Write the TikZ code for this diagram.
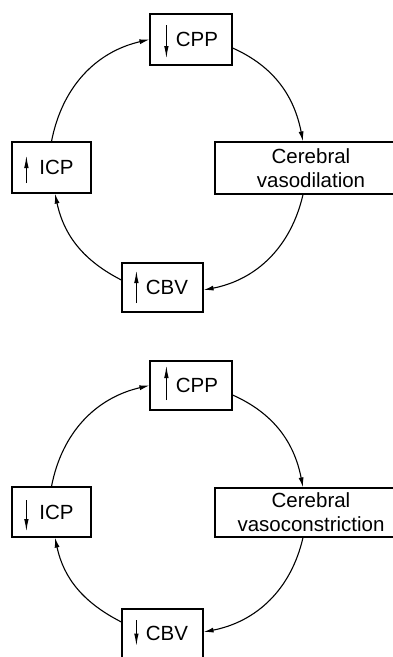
\documentclass[tikz,border=0pt]{standalone}
\usepackage{fontspec}
\setmainfont{Liberation Sans}
\usetikzlibrary{arrows.meta}
\begin{document}
\begin{tikzpicture}[x=1pt,y=1pt,
  box/.style={draw, line width=1.2pt, inner sep=0pt, align=center,
    font=\fontsize{20.5}{24}\selectfont},
  conn/.style={-{Latex[length=10pt,width=5pt]}, line width=1.1pt},
  updown/.style={-{Latex[length=13pt,width=4.5pt]}, line width=1.3pt}]
\useasboundingbox (0,0) rectangle (393,-657);
\clip (0,0) rectangle (393,-657);
% ---- upper cycle ----
\node[box, minimum width=82pt, minimum height=51pt] (cpp1) at (191,-39.5) {\hspace*{12pt}CPP};
\node[box, minimum width=79pt, minimum height=51pt] (icp1) at (51.5,-167.5) {\hspace*{10pt}ICP};
\node[box, minimum width=192pt, minimum height=52pt] (cer1) at (311,-168) {Cerebral\\vasodilation};
\node[box, minimum width=81pt, minimum height=49pt] (cbv1) at (162.5,-287.5) {\hspace*{9pt}CBV};
\draw[updown] ([xshift=17pt,yshift=14.5pt]cpp1.west) -- ([xshift=17pt,yshift=-19.5pt]cpp1.west);
\draw[updown] ([xshift=15pt,yshift=-15.5pt]icp1.west) -- ([xshift=15pt,yshift=12.5pt]icp1.west);
\draw[updown] ([xshift=15pt,yshift=-15.5pt]cbv1.west) -- ([xshift=15pt,yshift=17.5pt]cbv1.west);
\draw[conn] (icp1.north) to[out=79,in=193] (cpp1.west);
\draw[conn] ([yshift=-8.5pt]cpp1.east) to[out=-24,in=101] ([xshift=-8pt]cer1.north);
\draw[conn] ([xshift=-8pt]cer1.south) to[out=-103,in=11] ([yshift=-2.5pt]cbv1.east);
\draw[conn] ([yshift=7.5pt]cbv1.west) to[out=153,in=-78] ([xshift=3.5pt]icp1.south);
% ---- lower cycle ----
\node[box, minimum width=82pt, minimum height=49pt] (cpp2) at (191,-385.5) {\hspace*{12pt}CPP};
\node[box, minimum width=79pt, minimum height=50pt] (icp2) at (51.5,-512) {\hspace*{10pt}ICP};
\node[box, minimum width=192pt, minimum height=49pt] (cer2) at (311,-512.5) {Cerebral\\vasoconstriction};
\node[box, minimum width=81pt, minimum height=49pt] (cbv2) at (162.5,-633.5) {\hspace*{9pt}CBV};
\draw[updown] ([xshift=17pt,yshift=-14.5pt]cpp2.west) -- ([xshift=17pt,yshift=20.5pt]cpp2.west);
\draw[updown] ([xshift=15pt,yshift=12pt]icp2.west) -- ([xshift=15pt,yshift=-20pt]icp2.west);
\draw[updown] ([xshift=15pt,yshift=13.5pt]cbv2.west) -- ([xshift=15pt,yshift=-13pt]cbv2.west);
\draw[conn] (icp2.north) to[out=79,in=193] (cpp2.west);
\draw[conn] ([yshift=-9.5pt]cpp2.east) to[out=-24,in=101] ([xshift=-8pt]cer2.north);
\draw[conn] ([xshift=-8pt]cer2.south) to[out=-103,in=11] ([yshift=1.5pt]cbv2.east);
\draw[conn] ([yshift=11.5pt]cbv2.west) to[out=153,in=-78] ([xshift=3.5pt]icp2.south);
\end{tikzpicture}
\end{document}
